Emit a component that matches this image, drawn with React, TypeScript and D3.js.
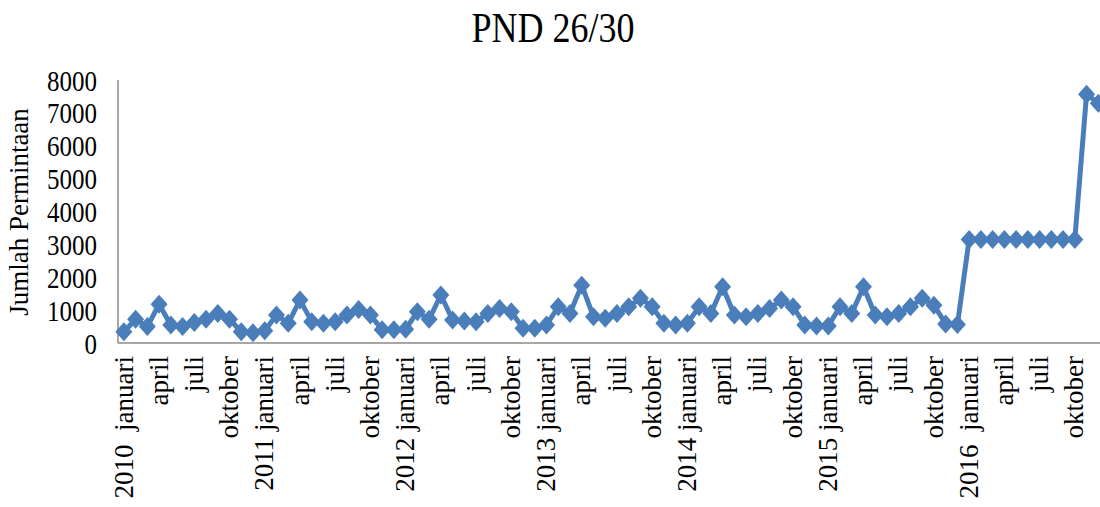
import React from "react";
import * as d3 from "d3";

const title = "PND 26/30";
const yAxisTitle = "Jumlah Permintaan";
const yTicks = [0, 1000, 2000, 3000, 4000, 5000, 6000, 7000, 8000];
const years = ["2010", "2011", "2012", "2013", "2014", "2015", "2016"];
const monthNames = ["januari", "februari", "maret", "april", "mei", "juni", "juli", "agustus", "september", "oktober", "november", "desember"];
const labeledMonths = ["januari", "april", "juli", "oktober"];

const values2010 = [340, 720, 500, 1180, 550, 500, 620, 720, 900, 720, 340, 310];
const values2011 = [370, 850, 600, 1310, 650, 600, 650, 850, 1020, 850, 400, 400];
const values2012 = [420, 950, 720, 1460, 700, 670, 650, 900, 1050, 950, 450, 450];
const values2013 = [550, 1100, 900, 1760, 800, 750, 900, 1100, 1360, 1100, 600, 550];
const values2014 = [600, 1100, 900, 1710, 850, 800, 900, 1050, 1310, 1100, 550, 520];
const values2015 = [520, 1100, 900, 1710, 850, 800, 900, 1100, 1360, 1150, 580, 560];
const values2016 = [3150, 3150, 3150, 3150, 3150, 3150, 3150, 3150, 3150, 3150, 7570, 7290];

const allValues = [values2010, values2011, values2012, values2013, values2014, values2015, values2016];

const data = years.flatMap((yr, yi) =>
  monthNames.map((m, mi) => ({ key: `${yr}-${mi}`, year: yr, month: m, mi, value: allValues[yi][mi] }))
);

const W = 1100;
const H = 507;
const X0 = 118;
const BAND = 11.74;
const Y0 = 343;
const YTOP = 80;
const COLOR = "#4a7ebb";
const FONT = "'Liberation Serif', 'Times New Roman', serif";

export default function App() {
  const x = d3
    .scaleBand<string>()
    .domain(data.map((d) => d.key))
    .range([X0, X0 + BAND * data.length])
    .paddingInner(0)
    .paddingOuter(0);
  const cx = (k: string) => (x(k) as number) + x.bandwidth() / 2;
  const y = d3.scaleLinear().domain([0, 8000]).range([Y0, YTOP]);

  const line = d3
    .line<(typeof data)[number]>()
    .x((d) => cx(d.key))
    .y((d) => y(d.value));

  const dw = 8.5;
  const dh = 9.5;
  const diamond = `M0,${-dh} L${dw},0 L0,${dh} L${-dw},0 Z`;

  const labels = data.filter((d) => labeledMonths.includes(d.month));

  return (
    <div style={{ position: "absolute", left: 0, top: 0 }}>
      <svg width={W} height={H} style={{ display: "block", fontFamily: FONT }}>
        <rect x={0} y={0} width={W} height={H} fill="#fff" />
        <text transform={`translate(553,42) scale(1,1.2)`} textAnchor="middle" fontSize={36} fill="#000">
          {title}
        </text>
        <text transform={`translate(28,212) rotate(-90)`} textAnchor="middle" fontSize={27} fill="#000">
          {yAxisTitle}
        </text>
        {yTicks.map((t) => (
          <text key={t} transform={`translate(97,${y(t)}) scale(1,1.2)`} dy="0.35em" textAnchor="end" fontSize={25} fill="#000">
            {t}
          </text>
        ))}
        <line x1={X0} x2={X0} y1={YTOP} y2={Y0} stroke="#8a8a8a" strokeWidth={1.5} />
        <line x1={X0} x2={W} y1={Y0} y2={Y0} stroke="#8a8a8a" strokeWidth={1.5} />
        <path d={line(data) || ""} fill="none" stroke={COLOR} strokeWidth={5} strokeLinejoin="round" />
        {data.map((d) => (
          <path key={d.key} d={diamond} transform={`translate(${cx(d.key)},${y(d.value)})`} fill={COLOR} />
        ))}
        {labels.map((d) => (
          <text
            key={d.key}
            transform={`translate(${cx(d.key)},356) rotate(-90)`}
            dy="0.32em"
            textAnchor="end"
            fontSize={27}
            fill="#000"
            style={{ whiteSpace: "pre" }}
          >
            {d.mi === 0 ? `${d.year}${d.year === "2010" || d.year === "2016" ? "  " : " "}${d.month}` : d.month}
          </text>
        ))}
      </svg>
    </div>
  );
}
